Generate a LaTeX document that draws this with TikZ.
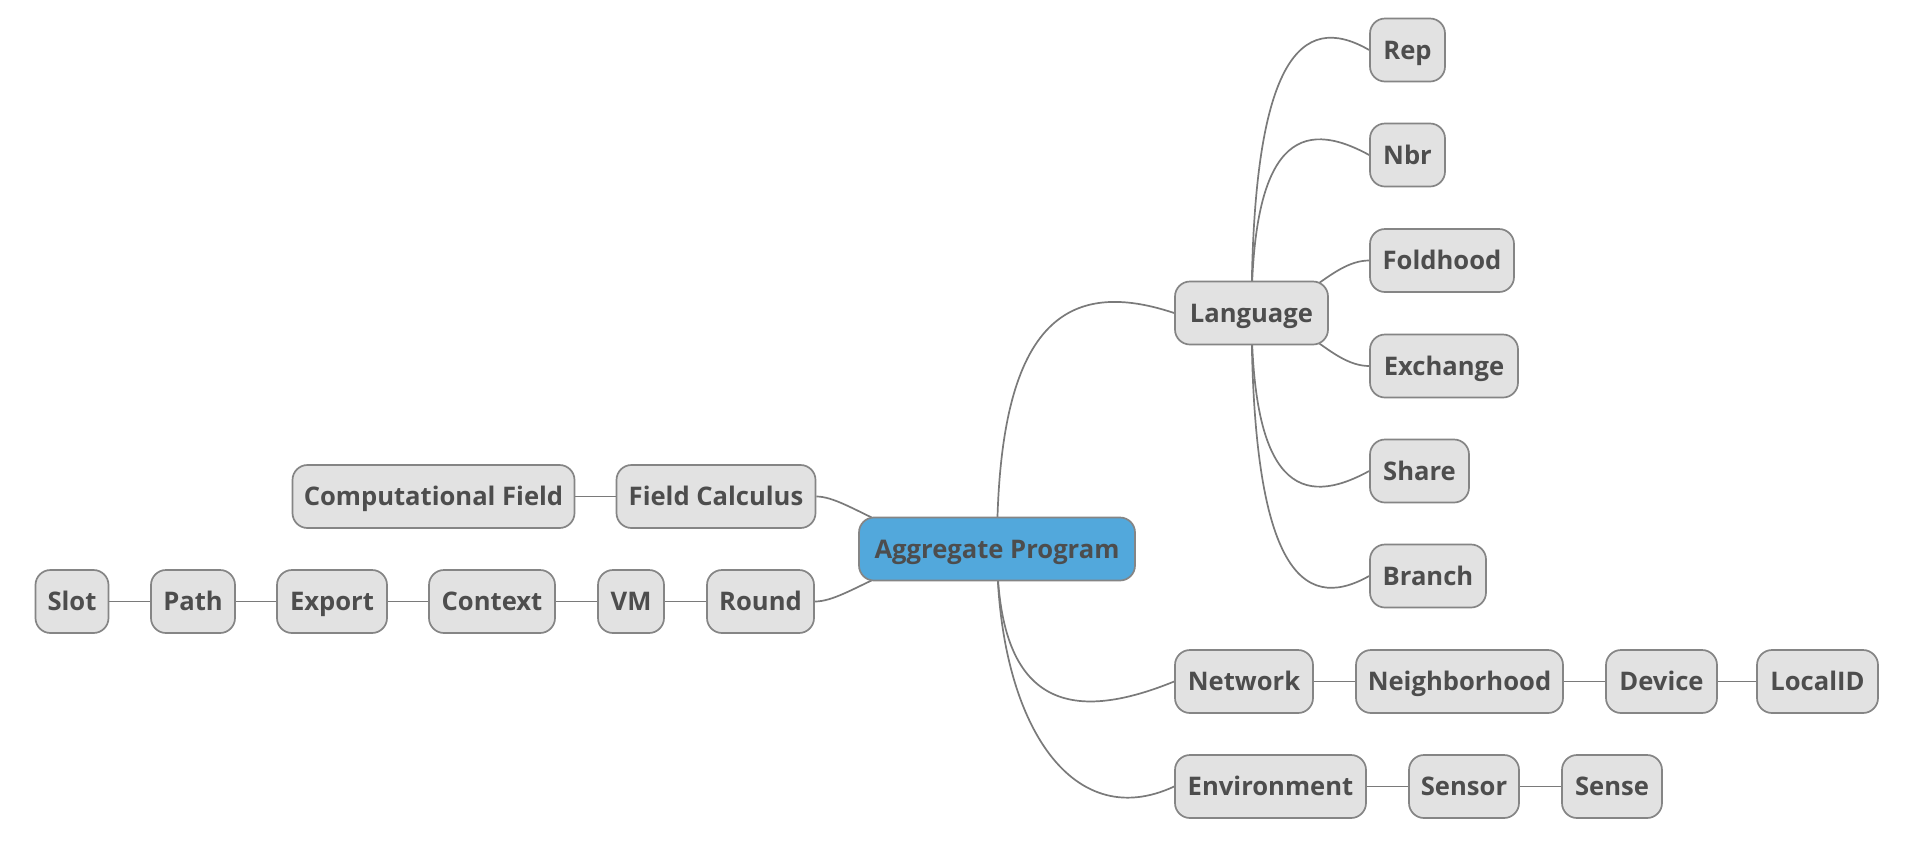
\documentclass[tikz,border=0pt]{standalone}
\usepackage{fontspec}
\setmainfont{Open Sans}
\pgfdeclarelayer{bg}
\pgfsetlayers{bg,main}
\definecolor{boxfill}{HTML}{E2E2E2}
\definecolor{boxline}{HTML}{858585}
\definecolor{txt}{HTML}{4D4D4D}
\definecolor{rootfill}{HTML}{52A8DC}
\definecolor{conn}{HTML}{7A7A7A}
\begin{document}
\begin{tikzpicture}[x=0.5pt,y=-0.5pt,
  mm/.style={draw=boxline, fill=boxfill, line width=0.85pt, rounded corners=7.5pt,
    text=txt, font=\bfseries\fontsize{12.8}{15}\selectfont, minimum height=31.5pt,
    inner sep=0pt, text height=9.1pt, text depth=0pt, anchor=center},
  rootbox/.style={mm, fill=rootfill},
  wd/.style={minimum width=#1*0.5pt},
  link/.style={draw=conn, line width=0.85pt}]
\useasboundingbox (0,0) rectangle (1924,858);
% nodes
\node[rootbox, wd=276] (agg) at (997,549) {Aggregate Program};
\node[mm, wd=153] (lang) at (1251.5,313) {Language};
\node[mm, wd=75] (rep) at (1407.5,50) {Rep};
\node[mm, wd=75] (nbr) at (1407.5,155) {Nbr};
\node[mm, wd=144] (fold) at (1442,260.5) {Foldhood};
\node[mm, wd=148] (exch) at (1444,366) {Exchange};
\node[mm, wd=99] (share) at (1419.5,471) {Share};
\node[mm, wd=116] (branch) at (1428,576) {Branch};
\node[mm, wd=138] (net) at (1244,681.5) {Network};
\node[mm, wd=207] (nbh) at (1459.5,681.5) {Neighborhood};
\node[mm, wd=111] (dev) at (1661.5,681.5) {Device};
\node[mm, wd=121] (lid) at (1817.5,681.5) {LocalID};
\node[mm, wd=191] (env) at (1270.5,786.5) {Environment};
\node[mm, wd=110] (sensor) at (1464,786.5) {Sensor};
\node[mm, wd=100] (sense) at (1612,786.5) {Sense};
\node[mm, wd=199] (fc) at (716,496.5) {Field Calculus};
\node[mm, wd=282] (cf) at (433.5,496.5) {Computational Field};
\node[mm, wd=107] (round) at (760.5,601.5) {Round};
\node[mm, wd=66] (vm) at (631,601.5) {VM};
\node[mm, wd=126] (ctx) at (492,601.5) {Context};
\node[mm, wd=110] (exp) at (332,601.5) {Export};
\node[mm, wd=84] (path) at (193,601.5) {Path};
\node[mm, wd=73] (slot) at (72,601.5) {Slot};
% connectors
\begin{pgfonlayer}{bg}
\fill[white] (0,0) rectangle (1924,858);
\draw[link] (agg.center) .. controls (997,330) and (1060,275) .. (lang.west);
\draw[link] (agg.center) .. controls (997,697) and (1060,728) .. (net.west);
\draw[link] (agg.center) .. controls (997,720) and (1070,835) .. (env.west);
\draw[link] (agg.center) .. controls (900,549) and (850,496.5) .. (fc.east);
\draw[link] (agg.center) .. controls (900,549) and (850,601.5) .. (round.east);
\draw[link] (lang.center) .. controls (1252,60) and (1300,10) .. (rep.west);
\draw[link] (lang.center) .. controls (1252,140) and (1300,117) .. (nbr.west);
\draw[link] (lang.center) .. controls (1300,313) and (1330,260.5) .. (fold.west);
\draw[link] (lang.center) .. controls (1300,313) and (1330,366) .. (exch.west);
\draw[link] (lang.center) .. controls (1252,486) and (1300,509) .. (share.west);
\draw[link] (lang.center) .. controls (1252,565) and (1300,615) .. (branch.west);
\draw[link] (cf) -- (fc);
\draw[link] (slot) -- (path);
\draw[link] (path) -- (exp);
\draw[link] (exp) -- (ctx);
\draw[link] (ctx) -- (vm);
\draw[link] (vm) -- (round);
\draw[link] (net) -- (nbh);
\draw[link] (nbh) -- (dev);
\draw[link] (dev) -- (lid);
\draw[link] (env) -- (sensor);
\draw[link] (sensor) -- (sense);
\end{pgfonlayer}
\end{tikzpicture}
\end{document}
